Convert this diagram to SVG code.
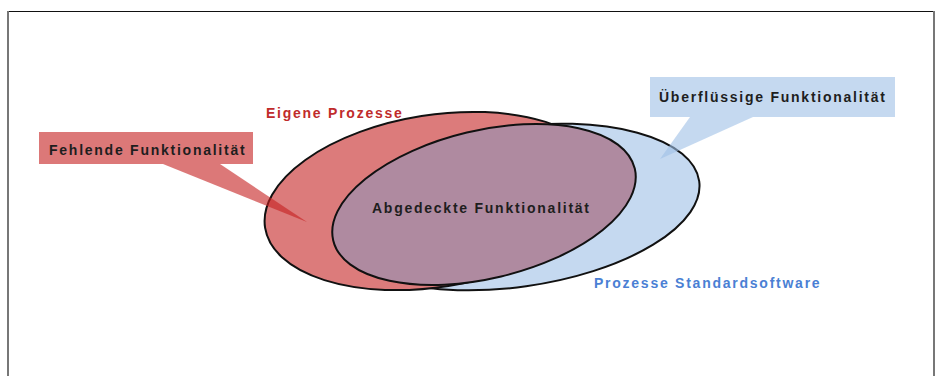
<svg xmlns="http://www.w3.org/2000/svg" width="939" height="376" viewBox="0 0 939 376">
<style>
.lbl{font-family:"Liberation Sans",Arial,sans-serif;font-size:14px;font-weight:bold;letter-spacing:1.75px}
.dark{fill:#1e1e1e}
.ell{stroke:#111;stroke-width:2}
.callR{fill:rgb(197,30,30);fill-opacity:0.6}
.callB{fill:rgb(158,191,230);fill-opacity:0.6}
</style>
<rect width="939" height="376" fill="#fff"/>
<g id="frame">
<line x1="8" y1="11.5" x2="934" y2="11.5" stroke="#111" stroke-width="1"/>
<line x1="8" y1="11" x2="8" y2="376" stroke="#777" stroke-width="2"/>
<line x1="934" y1="11" x2="934" y2="376" stroke="#777" stroke-width="2"/>
</g>
<g id="node-standardsoftware">
<ellipse class="ell" cx="515" cy="207" rx="186" ry="80" transform="rotate(-8 515 207)" fill="#c5d9f0"/>
<text class="lbl" x="594" y="287.5" fill="#4a7fd4">Prozesse Standardsoftware</text>
</g>
<g id="node-eigene-prozesse">
<ellipse class="ell" cx="435" cy="201" rx="172" ry="86" transform="rotate(-9 435 201)" fill="#dc7b7b"/>
<text class="lbl" x="266" y="118" fill="#c02b2b">Eigene Prozesse</text>
</g>
<g id="node-abgedeckt">
<ellipse class="ell" cx="484" cy="204.5" rx="155" ry="74" transform="rotate(-13.4 484 204.5)" fill="#af8aa0"/>
<text class="lbl dark" x="372" y="212.5">Abgedeckte Funktionalität</text>
</g>
<g id="connectors">
<polygon class="callR" points="163,164 220,164 307,222"/>
<polygon class="callB" points="690,117 753,117 660,159"/>
</g>
<g id="node-fehlende">
<rect class="callR" x="39" y="132" width="214" height="32"/>
<text class="lbl dark" x="49" y="154.5">Fehlende Funktionalität</text>
</g>
<g id="node-ueberfluessig">
<rect class="callB" x="650" y="77" width="245" height="40"/>
<text class="lbl dark" x="659" y="101.5">Überflüssige Funktionalität</text>
</g>
</svg>
